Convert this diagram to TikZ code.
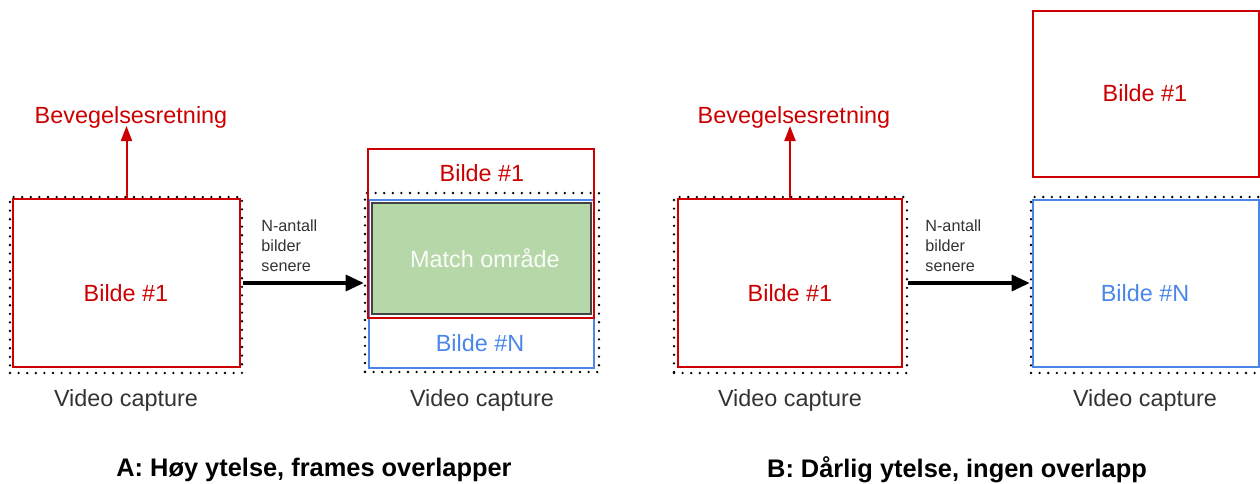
\documentclass[tikz,border=0pt]{standalone}
\usepackage{fontspec}
\setmainfont{Liberation Sans}
\usetikzlibrary{arrows.meta}
\definecolor{gred}{HTML}{CC0000}
\definecolor{gblue}{HTML}{4A86E8}
\definecolor{ggreen}{HTML}{B6D7A8}
\definecolor{gdark}{HTML}{434343}
\definecolor{gtext}{HTML}{333333}
\tikzset{
  box/.style={rectangle, inner sep=0pt, line width=1pt},
  redbox/.style={box, draw=gred},
  bluebox/.style={box, draw=gblue},
  dotbox/.style={box, draw=black, line width=1.3pt, dash pattern=on 0pt off 4.3pt, line cap=round},
  greenbox/.style={box, draw=gdark, fill=ggreen, line width=0.9pt},
  txt/.style={inner sep=0pt, font=\fontsize{11.7}{13}\selectfont},
  redtxt/.style={txt, text=gred},
  bluetxt/.style={txt, text=gblue},
  vctxt/.style={txt, text=gtext},
  smalltxt/.style={inner sep=0pt, align=left, text=gtext, font=\fontsize{8.1}{10}\selectfont},
  captxt/.style={inner sep=0pt, font=\fontsize{12.7}{14}\selectfont\bfseries},
  uparrow/.style={draw=gred, line width=1pt, -{Triangle[length=7.5pt,width=5.5pt]}},
  bigarrow/.style={draw=black, line width=1.6pt, -{Triangle[length=9pt,width=8pt]}},
}
\begin{document}
\begin{tikzpicture}[x=0.5pt, y=-0.5pt]
\useasboundingbox (0,0) rectangle (1260,483);
% ---------- Panel A ----------
\node[dotbox, minimum width=232*0.5pt, minimum height=176*0.5pt] (dotA1) at (126,285) {};
\node[redbox, minimum width=227*0.5pt, minimum height=168*0.5pt] (redA1) at (126.5,283) {};
\node[redtxt] (bildeA1) at (126,293) {Bilde \#1};
\node[redtxt] (bevA) at (131,117) {Bevegelsesretning};
\coordinate (tipA) at (126,126);
\draw[uparrow] (redA1.north) -- (redA1.north |- tipA);
\node[vctxt] (vcA1) at (126,400) {Video capture};

\node[dotbox, minimum width=234*0.5pt, minimum height=179*0.5pt] (dotA2) at (482,282.5) {};
\node[bluebox, minimum width=225*0.5pt, minimum height=168*0.5pt] (blueA2) at (481.5,284) {};
\node[redbox, minimum width=226*0.5pt, minimum height=169*0.5pt] (redA2) at (481,233.5) {};
\node[greenbox, minimum width=219*0.5pt, minimum height=111*0.5pt] (greenA2) at (481.5,258.5) {};
\node[txt, text=white!94!ggreen] (matchA2) at (485,258) {Match område};
\node[redtxt] (bildeA2) at (482,173) {Bilde \#1};
\node[bluetxt] (bildeNA2) at (480,343) {Bilde \#N};
\node[vctxt] (vcA2) at (482,400) {Video capture};

\draw[bigarrow] (redA1.east -| dotA1.east) -- (redA1.east -| dotA2.west);
\node[smalltxt, anchor=west] (nA) at (261,246) {N-antall\\bilder\\senere};

\node[captxt] (capA) at (314,470) {A: Høy ytelse, frames overlapper};

% ---------- Panel B ----------
\node[dotbox, minimum width=233*0.5pt, minimum height=176*0.5pt] (dotB1) at (790.5,285) {};
\node[redbox, minimum width=224*0.5pt, minimum height=168*0.5pt] (redB1) at (790,283) {};
\node[redtxt] (bildeB1) at (790,293) {Bilde \#1};
\node[redtxt] (bevB) at (794,117) {Bevegelsesretning};
\coordinate (tipB) at (790,126);
\draw[uparrow] (redB1.north) -- (redB1.north |- tipB);
\node[vctxt] (vcB1) at (790,400) {Video capture};

\node[redbox, minimum width=226*0.5pt, minimum height=166*0.5pt] (redB2) at (1146,94) {};
\node[redtxt] (bildeB2) at (1145,93) {Bilde \#1};
\node[dotbox, minimum width=232*0.5pt, minimum height=176*0.5pt] (dotB2) at (1147,285) {};
\node[bluebox, minimum width=226*0.5pt, minimum height=167*0.5pt] (blueB2) at (1146,283.5) {};
\node[bluetxt] (bildeNB2) at (1145,293) {Bilde \#N};
\node[vctxt] (vcB2) at (1145,400) {Video capture};

\draw[bigarrow] (redB1.east -| dotB1.east) -- (redB1.east -| dotB2.west);
\node[smalltxt, anchor=west] (nB) at (925,246) {N-antall\\bilder\\senere};

\node[captxt] (capB) at (957,470) {B: Dårlig ytelse, ingen overlapp};
\end{tikzpicture}
\end{document}
